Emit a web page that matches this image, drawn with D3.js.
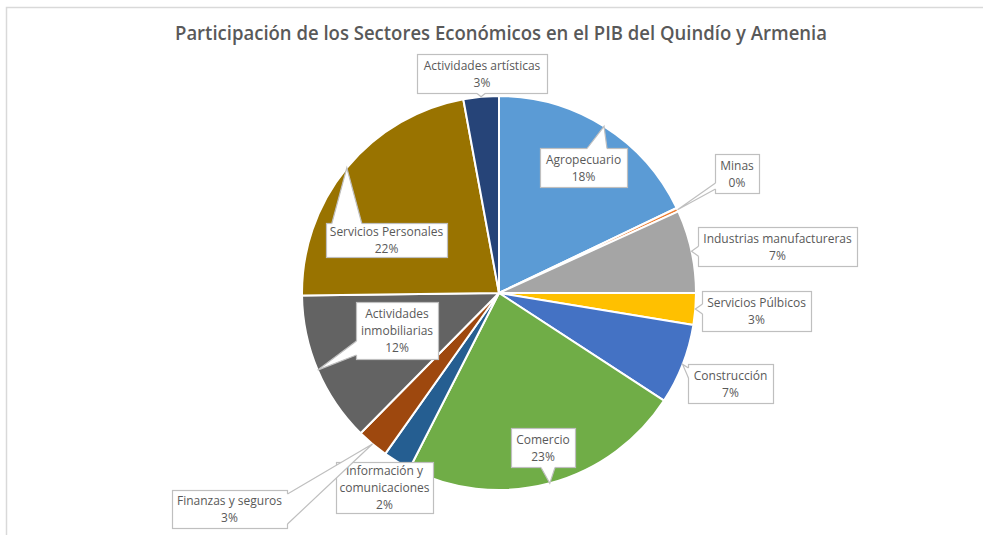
<!DOCTYPE html>
<html>
<head>
  <meta charset="utf-8">
  <title>Participación de los Sectores Económicos</title>
  <script src="https://d3js.org/d3.v7.min.js"></script>
  <style>
    body { margin: 0; background: #fff; font-family: "Open Sans", sans-serif; }
    .title { font-size: 19px; font-weight: 600; fill: #595959; text-anchor: middle; }
    .lbl { font-size: 12px; fill: #595959; text-anchor: middle; }
  </style>
</head>
<body>
  <div id="chart"></div>
  <script>
    // data
    const sectors = [
      "Agropecuario", "Minas", "Industrias manufactureras", "Servicios Púlbicos",
      "Construcción", "Comercio", "Información y comunicaciones", "Finanzas y seguros",
      "Actividades inmobiliarias", "Servicios Personales", "Actividades artísticas"
    ];
    const shares = [17.9, 0.3, 6.8, 2.6, 6.6, 23.3, 2.3, 2.6, 12.4, 22.3, 2.9];
    const colors = [
      "#5B9BD5", "#ED7D31", "#A5A5A5", "#FFC000", "#4472C4", "#70AD47",
      "#255E91", "#9E480E", "#636363", "#997300", "#264478"
    ];
    // label text lines (name split as in the chart)
    const labelLines = [
      ["Agropecuario"], ["Minas"], ["Industrias manufactureras"], ["Servicios Púlbicos"],
      ["Construcción"], ["Comercio"], ["Información y", "comunicaciones"], ["Finanzas y seguros"],
      ["Actividades", "inmobiliarias"], ["Servicios Personales"], ["Actividades artísticas"]
    ];
    // label box layout: x, y, w, h, pointer base width
    const labelBoxes = [
      [540, 148, 87, 39, 20], [715, 154, 44, 39, 6], [698, 227, 159, 39, 10],
      [702, 291, 109, 40, 10], [688, 364, 85, 39, 10], [511, 428, 64, 39, 14],
      [336, 462, 97, 51, 0], [172, 490, 115, 38, 30], [356, 302, 82, 57, 14],
      [326, 223, 121, 34, 30], [417, 54, 130, 39, 8]
    ];

    const W = 983, H = 535;
    const cx = 499, cy = 293, R = 197;

    const svg = d3.select("#chart").append("svg")
      .attr("width", W).attr("height", H);

    // chart frame
    svg.append("rect")
      .attr("x", 6.5).attr("y", 7.5)
      .attr("width", W + 10).attr("height", H + 10)
      .attr("fill", "#fff").attr("stroke", "#d9d9d9").attr("stroke-width", 1.5);

    svg.append("text")
      .attr("class", "title")
      .attr("x", 501).attr("y", 40)
      .attr("textLength", 652).attr("lengthAdjust", "spacingAndGlyphs")
      .text("Participación  de los Sectores Económicos en el PIB del Quindío y Armenia");

    const data = sectors.map((s, i) => ({ name: s, value: shares[i], i }));

    const pie = d3.pie().sort(null).value(d => d.value);
    const arcs = pie(data);
    const arc = d3.arc().innerRadius(0).outerRadius(R);
    const edge = d3.arc().innerRadius(R).outerRadius(R);

    const g = svg.append("g").attr("transform", `translate(${cx},${cy})`);

    g.selectAll("path")
      .data(arcs)
      .join("path")
        .attr("d", arc)
        .attr("fill", d => colors[d.data.i])
        .attr("stroke", "#fff")
        .attr("stroke-width", 2)
        .attr("stroke-linejoin", "round");

    // callout labels
    const lg = svg.append("g");
    arcs.forEach(a => {
      const i = a.data.i;
      const [bx, by, bw, bh, pw] = labelBoxes[i];
      const c = edge.centroid(a);
      const tx = cx + c[0], ty = cy + c[1];

      lg.append("rect")
        .attr("x", bx + 0.5).attr("y", by + 0.5)
        .attr("width", bw).attr("height", bh)
        .attr("fill", "#fff").attr("stroke", "#bfbfbf").attr("stroke-width", 1.2);

      if (pw > 0) {
        // pick the box side facing the tip
        const dl = bx - tx, dr = tx - (bx + bw), dt = by - ty, db = ty - (by + bh);
        const m = Math.max(dl, dr, dt, db);
        let p1, p2, q1, q2;
        if (m === dt || m === db) {
          const yy = m === dt ? by + 0.5 : by + bh + 0.5;
          const inward = m === dt ? 1.5 : -1.5;
          const mx = Math.max(bx + pw / 2 + 4, Math.min(bx + bw - pw / 2 - 20, tx));
          p1 = [mx - pw / 2, yy]; p2 = [mx + pw / 2, yy];
          q1 = [p1[0], yy + inward]; q2 = [p2[0], yy + inward];
        } else {
          const xx = m === dl ? bx + 0.5 : bx + bw + 0.5;
          const inward = m === dl ? 1.5 : -1.5;
          const my = Math.max(by + pw / 2 + 4, Math.min(by + bh - pw / 2 - 4, ty));
          p1 = [xx, my - pw / 2]; p2 = [xx, my + pw / 2];
          q1 = [xx + inward, p1[1]]; q2 = [xx + inward, p2[1]];
        }
        lg.append("path")
          .attr("d", d3.line()([q1, p1, [tx, ty], p2, q2]) + "Z")
          .attr("fill", "#fff");
        lg.append("path")
          .attr("d", d3.line()([p1, [tx, ty], p2]))
          .attr("fill", "none").attr("stroke", "#bfbfbf").attr("stroke-width", 1.2);
      }

      const lines = labelLines[i].concat([Math.round(a.data.value) + "%"]);
      const lh = 17;
      const top = by + bh / 2 - (lines.length * lh) / 2;
      const t = lg.append("text").attr("class", "lbl");
      lines.forEach((ln, k) => {
        t.append("tspan")
          .attr("x", bx + bw / 2)
          .attr("y", top + lh * (k + 1) - 4)
          .text(ln);
      });
    });
  </script>
</body>
</html>
